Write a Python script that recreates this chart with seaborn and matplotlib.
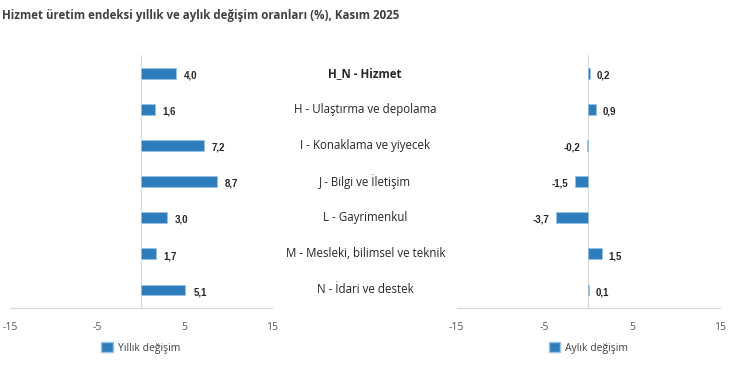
import matplotlib
matplotlib.use("Agg")
import matplotlib.pyplot as plt
import matplotlib.transforms as mtransforms
from matplotlib.patches import Patch
import pandas as pd
import seaborn as sns

# veriler
kategoriler = ["H_N - Hizmet", "H - Ulaştırma ve depolama", "I - Konaklama ve yiyecek",
               "J - Bilgi ve İletişim", "L - Gayrimenkul", "M - Mesleki, bilimsel ve teknik",
               "N - İdari ve destek"]
yillik = [4.0, 1.6, 7.2, 8.7, 3.0, 1.7, 5.1]
aylik = [0.2, 0.9, -0.2, -1.5, -3.7, 1.5, 0.1]
x_ticks = [-15, -5, 5, 15]

df = pd.DataFrame({"kategori": kategoriler, "yillik": yillik, "aylik": aylik})

sns.set_theme(style="white")
plt.rcParams["font.family"] = ["Open Sans", "DejaVu Sans"]

renk = "#2E7EBD"
gri = "#D9D9D9"

fig = plt.figure(figsize=(7.5, 3.68), dpi=100)
ax1 = fig.add_axes([0.0133, 0.163, 0.349, 0.687])
ax2 = fig.add_axes([0.609, 0.163, 0.351, 0.687])

for ax, col, etiket in [(ax1, "yillik", "Yıllık değişim"), (ax2, "aylik", "Aylık değişim")]:
    sns.barplot(data=df, y="kategori", x=col, orient="h", color=renk, width=0.3,
                edgecolor="#9CC3E6", linewidth=0.4, saturation=1, ax=ax)
    ax.set_xlim(-15, 15)
    ax.set_ylim(6.5, -0.5)
    ax.set_xticks(x_ticks)
    ax.set_xticklabels([str(t) for t in x_ticks], color="#595959", fontsize=7.5)
    ax.tick_params(axis="x", length=0, pad=10)
    ax.set_yticks([])
    ax.set_xlabel("")
    ax.set_ylabel("")
    for s in ["top", "right", "left"]:
        ax.spines[s].set_visible(False)
    ax.spines["bottom"].set_color(gri)
    ax.spines["bottom"].set_linewidth(0.8)
    ax.axvline(0, color=gri, lw=0.8, zorder=0)
    for i, v in enumerate(df[col]):
        txt = f"{v:.1f}".replace(".", ",")
        off = 0.75 if ax is ax2 else 0.9
        if v >= 0:
            ax.text(v + off, i + 0.06, txt, ha="left", va="center", fontsize=7,
                    fontweight="bold", color="#262626", family="Liberation Sans")
        else:
            ax.text(v - off, i + 0.06, txt, ha="right", va="center", fontsize=7,
                    fontweight="bold", color="#262626", family="Liberation Sans")
    ax.legend(handles=[Patch(facecolor=renk, edgecolor="#9CC3E6", label=etiket)],
              loc="center", bbox_to_anchor=(0.5, -0.158), frameon=False,
              fontsize=7.5, handlelength=1.1, handleheight=1.1, handletextpad=0.5,
              labelcolor="#404040", borderpad=0)

# kategori etiketleri ortada
tr = mtransforms.blended_transform_factory(fig.transFigure, ax1.transData)
for i, k in enumerate(kategoriler):
    ax1.text(0.487, i, k, transform=tr, ha="center", va="center", fontsize=8.3,
             color="#262626", fontweight="bold" if i == 0 else "normal", clip_on=False)

fig.text(0.003, 0.975, "Hizmet üretim endeksi yıllık ve aylık değişim oranları (%), Kasım 2025",
         ha="left", va="top", fontsize=8.3, fontweight="bold", color="#404040")

fig.savefig("out.png", dpi=100, facecolor="white")
